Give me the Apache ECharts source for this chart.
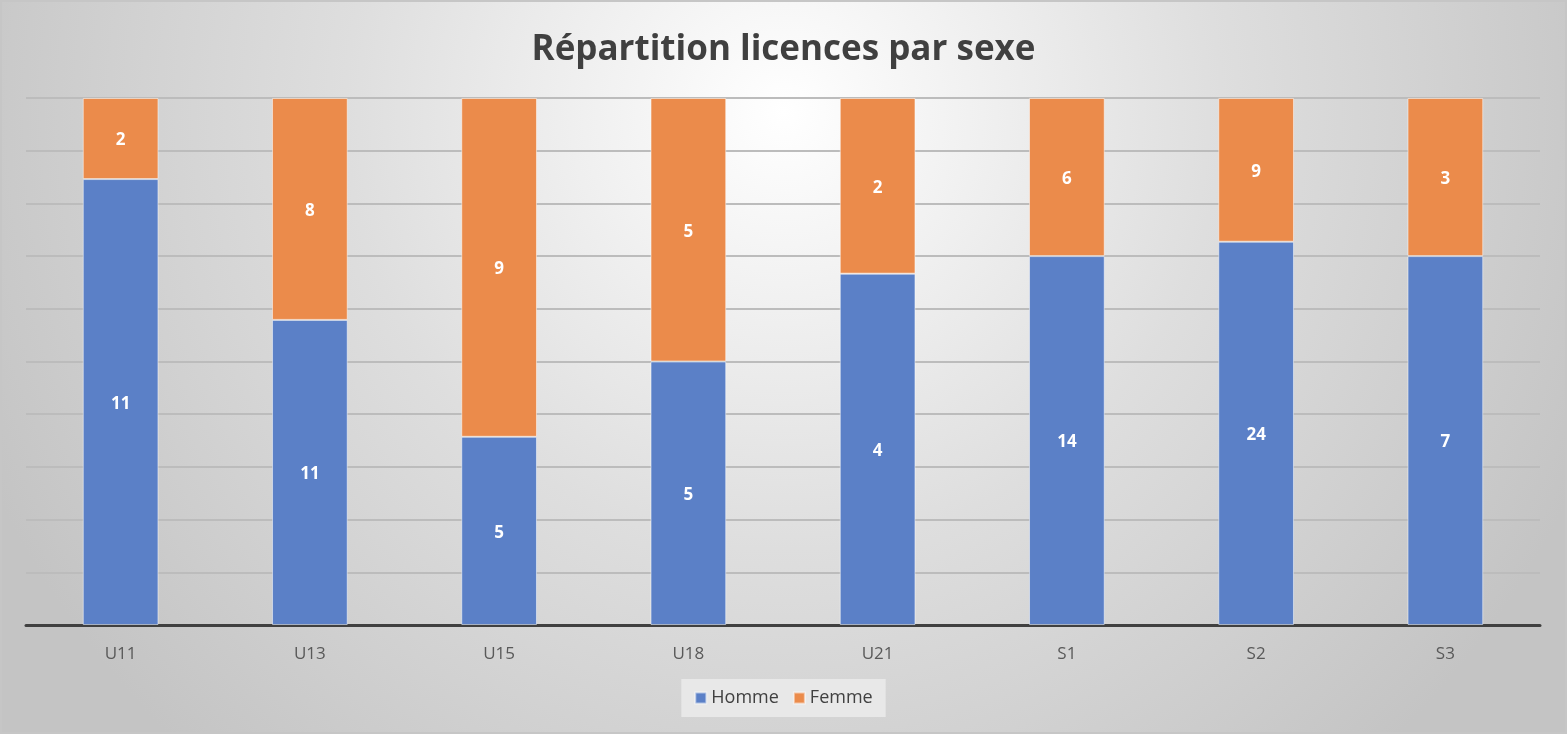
<!DOCTYPE html>
<html>
<head>
<meta charset="utf-8">
<script src="https://cdn.jsdelivr.net/npm/echarts@6/dist/echarts.min.js"></script>
<style>
  html, body { margin: 0; padding: 0; }
  #chart { width: 1567px; height: 734px; box-sizing: border-box; border: 2px solid #c6c6c6; }
</style>
</head>
<body>
<div id="chart"></div>
<script>
// Licence counts per age category, split by sex
const categories = ['U11', 'U13', 'U15', 'U18', 'U21', 'S1', 'S2', 'S3'];
const homme = [11, 11, 5, 5, 4, 14, 24, 7];
const femme = [2, 8, 9, 5, 2, 6, 9, 3];

// 100% stacked: each column's share of its category total
const totals = categories.map((_, i) => homme[i] + femme[i]);
const share = (arr) => arr.map((v, i) => ({ value: v / totals[i] * 100, count: v }));

const labelStyle = {
  show: true,
  position: 'inside',
  offset: [0, 2],
  color: '#ffffff',
  fontFamily: 'Open Sans',
  fontWeight: 'bold',
  fontSize: 17,
  formatter: (p) => p.data.count
};

const chart = echarts.init(document.getElementById('chart'));
chart.setOption({
  animation: false,
  backgroundColor: {
    type: 'radial', x: 0.5, y: 0.15, r: 1.2,
    colorStops: [
      { offset: 0, color: '#ffffff' },
      { offset: 0.5, color: '#dedede' },
      { offset: 1, color: '#c4c4c4' }
    ]
  },
  title: {
    text: 'Répartition licences par sexe',
    left: 'center',
    top: 26,
    textStyle: { fontFamily: 'Open Sans', fontWeight: 'bold', fontSize: 35, color: '#404040' }
  },
  legend: {
    bottom: 15,
    left: 'center',
    itemWidth: 11,
    itemHeight: 11,
    itemGap: 14,
    padding: [10, 13],
    backgroundColor: 'rgba(235,235,235,0.85)',
    icon: 'rect',
    textStyle: { fontFamily: 'Open Sans', fontSize: 18, color: '#404040' },
    data: ['Homme', 'Femme']
  },
  grid: { left: 24, right: 25, top: 96, bottom: 107 },
  xAxis: {
    type: 'category',
    data: categories,
    axisLine: { lineStyle: { color: '#404040', width: 3 } },
    axisTick: { show: false },
    axisLabel: { color: '#595959', fontFamily: 'Open Sans', fontSize: 17, margin: 21 }
  },
  yAxis: {
    type: 'value',
    min: 0,
    max: 100,
    interval: 10,
    axisLabel: { show: false },
    axisLine: { show: false },
    axisTick: { show: false },
    splitLine: { lineStyle: { color: '#bcbcbc', width: 2 } }
  },
  series: [
    {
      name: 'Homme',
      type: 'bar',
      stack: 'total',
      barWidth: '40%',
      data: share(homme),
      itemStyle: { color: '#5b80c7', borderColor: 'rgba(255,255,255,0.5)', borderWidth: 1 },
      label: labelStyle
    },
    {
      name: 'Femme',
      type: 'bar',
      stack: 'total',
      barWidth: '40%',
      data: share(femme),
      itemStyle: { color: '#eb8b4b', borderColor: 'rgba(255,255,255,0.5)', borderWidth: 1 },
      label: labelStyle
    }
  ]
});
</script>
</body>
</html>
